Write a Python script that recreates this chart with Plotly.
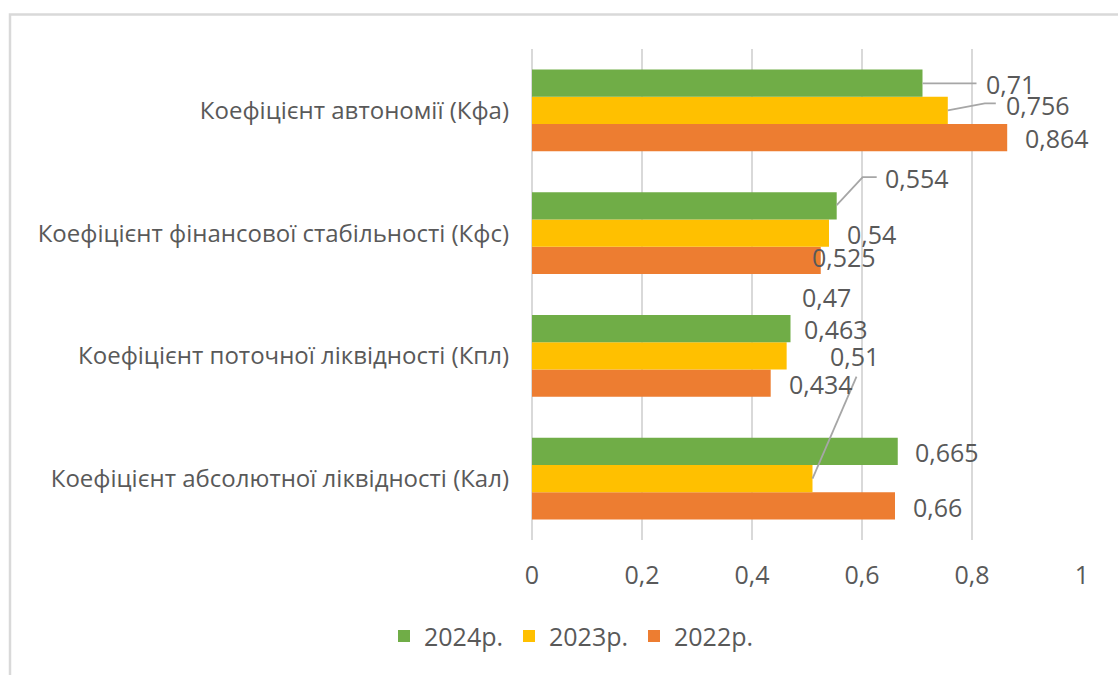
import plotly.graph_objects as go

# ---------------- data ----------------
categories = [
    "Коефіцієнт автономії (Кфа)",
    "Коефіцієнт фінансової стабільності (Кфс)",
    "Коефіцієнт поточної ліквідності (Кпл)",
    "Коефіцієнт абсолютної ліквідності (Кал)",
]
series_names = ["2024р.", "2023р.", "2022р."]
v2024 = [0.71, 0.554, 0.47, 0.665]
v2023 = [0.756, 0.54, 0.463, 0.51]
v2022 = [0.864, 0.525, 0.434, 0.66]
x_tick_vals = [0, 0.2, 0.4, 0.6, 0.8, 1]
x_tick_text = ["0", "0,2", "0,4", "0,6", "0,8", "1"]

# ---------------- style ----------------
FONT = "Open Sans"
TXT = "#595959"
GRID = "#D9D9D9"
LEADER = "#A6A6A6"
colors = {"2024р.": "#70AD47", "2023р.": "#FFC000", "2022р.": "#ED7D31"}

# plot drawn bottom-to-top, so reverse the category order
cats_bt = categories[::-1]
values = {"2024р.": v2024, "2023р.": v2023, "2022р.": v2022}

fig = go.Figure()
for name in ["2022р.", "2023р.", "2024р."]:
    fig.add_trace(go.Bar(
        name=name,
        y=cats_bt,
        x=values[name][::-1],
        orientation="h",
        marker=dict(color=colors[name], line=dict(width=0)),
        hoverinfo="x+y",
    ))

# label placement (pixel offsets: dx from bar end, dy up from category centre)
label_offsets = {
    "2024р.": [(88, 26), (80, 55), (36, 59), (49, 27)],
    "2023р.": [(90, 5), (42, -1), (49, 27), (42, 123)],
    "2022р.": [(50, -28), (23, -24), (50, -28), (42, -28)],
}
annotations = []
for name in series_names:
    for i, cat in enumerate(categories):
        v = values[name][i]
        dx, dy = label_offsets[name][i]
        annotations.append(dict(
            x=v, y=cat, xref="x", yref="y",
            text=f"{v:g}".replace(".", ","),
            showarrow=False, xanchor="center", yanchor="middle",
            xshift=dx, yshift=dy,
            font=dict(family=FONT, size=25, color=TXT),
        ))

# leader lines (pixel paths anchored at bar ends)
leaders = [
    ("2024р.", 0, "M0,27 L54,27"),
    ("2023р.", 0, "M0,0 L37,7 L48,7"),
    ("2024р.", 1, "M0,28 L26,56 L40,56"),
    ("2023р.", 3, "M0,0 L44,102"),
]
shapes = []
for name, i, path in leaders:
    shapes.append(dict(
        type="path", xref="x", yref="y",
        xsizemode="pixel", ysizemode="pixel",
        xanchor=values[name][i], yanchor=categories[i],
        path=path, line=dict(color=LEADER, width=1.8),
    ))

# outer chart border
L, R, T, B = 532, 36, 48.5, 134.5
W, H = 1118 - L - R, 675 - T - B
def px_x(p):
    return (p - L) / W
def px_y(p):
    return (675 - B - p) / H
shapes.append(dict(
    type="rect", xref="paper", yref="paper",
    x0=px_x(10), x1=px_x(1140), y0=px_y(700), y1=px_y(14),
    line=dict(color=GRID, width=2.5), fillcolor="rgba(0,0,0,0)", layer="below",
))

fig.update_layout(
    width=1118, height=675,
    margin=dict(l=L, r=R, t=T, b=B, pad=0),
    paper_bgcolor="white", plot_bgcolor="white",
    barmode="group", bargap=0.333, bargroupgap=0,
    font=dict(family=FONT, size=25, color=TXT),
    xaxis=dict(
        range=[0, 1], tickvals=x_tick_vals, ticktext=x_tick_text,
        showgrid=True, gridcolor=GRID, gridwidth=2,
        zeroline=True, zerolinecolor=GRID, zerolinewidth=2,
        showline=False, ticks="", ticklabelstandoff=18,
        tickfont=dict(family=FONT, size=25, color=TXT),
        fixedrange=True,
    ),
    yaxis=dict(
        categoryorder="array", categoryarray=cats_bt,
        showgrid=False, zeroline=False, showline=False, ticks="",
        ticklabelstandoff=22,
        tickfont=dict(family=FONT, size=24, color=TXT),
        fixedrange=True,
    ),
    legend=dict(
        orientation="h", traceorder="reversed",
        x=px_x(384), xanchor="left", y=px_y(637), yanchor="middle",
        font=dict(family=FONT, size=25, color=TXT),
        entrywidth=80, entrywidthmode="pixels",
        bgcolor="rgba(0,0,0,0)", borderwidth=0,
    ),
    annotations=annotations,
    shapes=shapes,
    showlegend=True,
)

fig.write_html("out.html")
